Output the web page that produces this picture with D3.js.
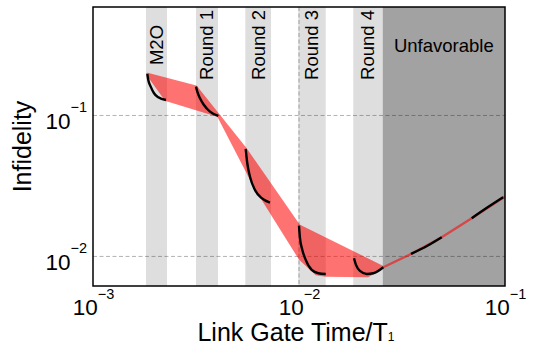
<!DOCTYPE html>
<html>
<head>
<meta charset="utf-8">
<script src="https://cdn.jsdelivr.net/npm/d3@7"></script>
<style>
  body { margin: 0; background: #fff; }
  text { font-family: "Liberation Sans", Arial, sans-serif; fill: #000; }
</style>
</head>
<body>
<svg id="chart" width="535" height="348"></svg>
<script>
// round windows (gray bands), link gate time / T1
const bandNames = ["M2O", "Round 1", "Round 2", "Round 3", "Round 4"];
const bandStart = [1.808e-3, 3.162e-3, 5.487e-3, 9.92e-3, 1.834e-2];
const bandEnd = [2.287e-3, 4.044e-3, 7.313e-3, 1.348e-2, 2.549e-2];
const unfavorable = [2.549e-2, 0.1];

// black curves: [gate time, infidelity]
const curveM2O = [[1.835e-3, 0.197], [1.855e-3, 0.1786], [1.906e-3, 0.1601], [1.978e-3, 0.1437], [2.075e-3, 0.1346], [2.261e-3, 0.1288]];
const curveRound1 = [[3.162e-3, 0.1601], [3.209e-3, 0.1475], [3.306e-3, 0.1324], [3.457e-3, 0.1187], [3.698e-3, 0.1064], [4.058e-3, 0.0992]];
const curveRound2 = [[5.512e-3, 0.0579], [5.611e-3, 0.0458], [5.782e-3, 0.0368], [6.115e-3, 0.0296], [6.592e-3, 0.0259], [7.231e-3, 0.0241]];
const curveRound3 = [[1.0e-2, 0.01654], [1.011e-2, 0.01346], [1.038e-2, 0.01112], [1.078e-2, 0.00945], [1.153e-2, 0.00802], [1.241e-2, 0.0076], [1.348e-2, 0.00751]];
const curveRound4 = [[1.849e-2, 0.00971], [1.891e-2, 0.0087], [1.977e-2, 0.00789], [2.131e-2, 0.00751], [2.295e-2, 0.0076], [2.566e-2, 0.00838]];
const curveRound5 = [[3.498e-2, 0.01041], [4.2e-2, 0.0119], [4.929e-2, 0.01368]];
const curveRound6 = [[6.892e-2, 0.01866], [8.2e-2, 0.0222], [9.8e-2, 0.0263]];

// red envelope: upper and lower edges
const envUpper = [[1.835e-3, 0.197], [3.162e-3, 0.160], [5.512e-3, 0.0579], [1.0e-2, 0.01654], [2.566e-2, 0.00838],
  [3.498e-2, 0.01041], [4.929e-2, 0.01368], [6.892e-2, 0.01866], [0.1, 0.0266]];
const envLower = [[2.261e-3, 0.1288], [4.058e-3, 0.0992], [6.115e-3, 0.0311], [1.011e-2, 0.0096], [1.209e-2, 0.00751],
  [1.352e-2, 0.00733], [2.163e-2, 0.00727], [2.566e-2, 0.00838],
  [3.498e-2, 0.01041], [4.929e-2, 0.01368], [6.892e-2, 0.01866], [0.1, 0.0266]];

const xTicks = [1e-3, 1e-2, 1e-1];
const yTicks = [1e-2, 1e-1];
const xExponents = ["\u22123", "\u22122", "\u22121"];
const yExponents = ["\u22122", "\u22121"];

const margin = { left: 93, right: 505, top: 7, bottom: 286 };

const x = d3.scaleLog().domain([1e-3, 1e-1]).range([margin.left, margin.right]);
const y = d3.scaleLog().domain([0.00617, 0.588]).range([margin.bottom, margin.top]);

const svg = d3.select("#chart");

svg.append("clipPath").attr("id", "plotClip")
  .append("rect")
  .attr("x", margin.left).attr("y", margin.top)
  .attr("width", margin.right - margin.left)
  .attr("height", margin.bottom - margin.top);

const plot = svg.append("g").attr("clip-path", "url(#plotClip)");

// bands
plot.append("g")
  .selectAll("rect")
  .data(bandNames)
  .enter()
  .append("rect")
  .attr("x", (d, i) => x(bandStart[i]))
  .attr("width", (d, i) => x(bandEnd[i]) - x(bandStart[i]))
  .attr("y", margin.top)
  .attr("height", margin.bottom - margin.top)
  .attr("fill", "#dedede");

plot.append("rect")
  .attr("x", x(unfavorable[0]))
  .attr("width", x(unfavorable[1]) - x(unfavorable[0]))
  .attr("y", margin.top)
  .attr("height", margin.bottom - margin.top)
  .attr("fill", "#a2a2a2");

// grid
const grid = plot.append("g")
  .attr("stroke", "#000")
  .attr("stroke-opacity", 0.3)
  .attr("stroke-width", 1)
  .attr("stroke-dasharray", "4,2.5");
grid.selectAll("line.h")
  .data(yTicks)
  .enter()
  .append("line")
  .attr("x1", margin.left).attr("x2", margin.right)
  .attr("y1", d => y(d)).attr("y2", d => y(d));
grid.append("line")
  .attr("x1", x(1e-2)).attr("x2", x(1e-2))
  .attr("y1", margin.top).attr("y2", margin.bottom);

// envelope
const line = d3.line().x(d => x(d[0])).y(d => y(d[1]));
const envelope = envUpper.concat(envLower.slice().reverse());
plot.append("path")
  .attr("d", line(envelope) + "Z")
  .attr("fill", "red")
  .attr("stroke", "red")
  .attr("stroke-width", 2.4)
  .attr("stroke-linejoin", "round")
  .attr("opacity", 0.55);

// curves
const curves = [curveM2O, curveRound1, curveRound2, curveRound3, curveRound4, curveRound5, curveRound6];
plot.append("g")
  .selectAll("path")
  .data(curves)
  .enter()
  .append("path")
  .attr("d", d => d3.line().curve(d3.curveMonotoneX).x(p => x(p[0])).y(p => y(p[1]))(d))
  .attr("fill", "none")
  .attr("stroke", "#000")
  .attr("stroke-width", 2.4)
  .attr("stroke-linecap", "butt");

// band labels
svg.append("g")
  .selectAll("text")
  .data(bandNames)
  .enter()
  .append("text")
  .attr("transform", (d, i) => `translate(${(x(bandStart[i]) + x(bandEnd[i])) / 2 + 6.5}, 45) rotate(-90)`)
  .attr("text-anchor", "middle")
  .style("font-size", "18.5px")
  .text(d => d);

svg.append("text")
  .attr("x", (x(unfavorable[0]) + x(unfavorable[1])) / 2)
  .attr("y", 52)
  .attr("text-anchor", "middle")
  .style("font-size", "18.5px")
  .text("Unfavorable");

// frame
svg.append("rect")
  .attr("x", margin.left).attr("y", margin.top)
  .attr("width", margin.right - margin.left)
  .attr("height", margin.bottom - margin.top)
  .attr("fill", "none")
  .attr("stroke", "#000")
  .attr("stroke-width", 1.5);

// axes
const xAxis = svg.append("g")
  .attr("transform", `translate(0, ${margin.bottom})`)
  .call(d3.axisBottom(x).tickValues(xTicks).tickSize(0));
xAxis.select(".domain").remove();
xAxis.selectAll("text")
  .attr("y", 29).attr("dy", null)
  .style("font-size", "22.5px")
  .each(function(d, i) {
    const t = d3.select(this).text(null);
    t.append("tspan").text("10");
    t.append("tspan").attr("dy", -16.5).style("font-size", "14.5px").text(xExponents[i]);
  });

const yAxis = svg.append("g")
  .attr("transform", `translate(${margin.left}, 0)`)
  .call(d3.axisLeft(y).tickValues(yTicks).tickSize(0));
yAxis.select(".domain").remove();
yAxis.selectAll("text")
  .attr("x", -6).attr("y", 13).attr("dy", null)
  .style("font-size", "22.5px")
  .each(function(d, i) {
    const t = d3.select(this).text(null);
    t.append("tspan").text("10");
    t.append("tspan").attr("dy", -17).style("font-size", "14.5px").text(yExponents[i]);
  });

// axis titles
const xLabel = svg.append("text")
  .attr("x", 296)
  .attr("y", 341)
  .attr("text-anchor", "middle")
  .style("font-size", "25px");
xLabel.append("tspan").text("Link Gate Time/T");
xLabel.append("tspan").style("font-size", "12px").text("1");

svg.append("text")
  .attr("transform", `translate(31, ${(margin.top + margin.bottom) / 2}) rotate(-90)`)
  .attr("text-anchor", "middle")
  .style("font-size", "25px")
  .text("Infidelity");
</script>
</body>
</html>
